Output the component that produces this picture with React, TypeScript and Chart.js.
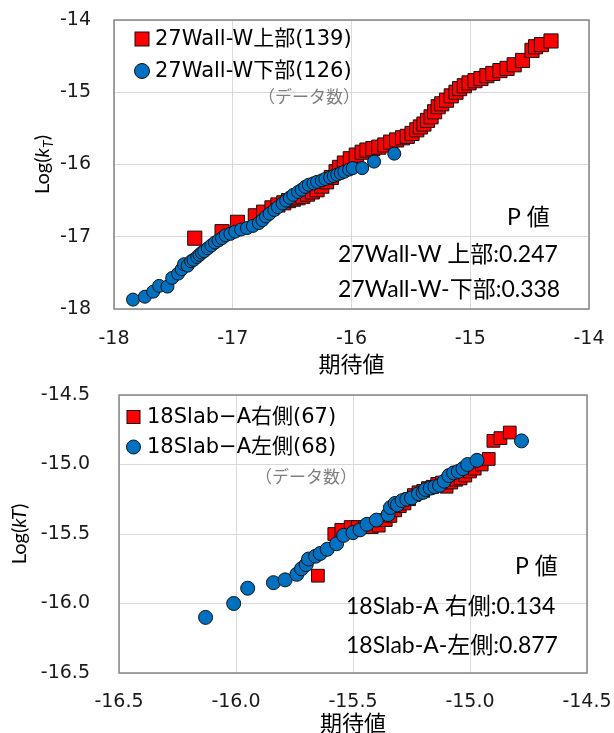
import React, { useEffect, useRef } from 'react';
import { Chart, registerables } from 'chart.js';

Chart.register(...registerables);

// ---------------- Top chart (27Wall-W) ----------------
const wallUpperX = [-17.32, -17.09, -16.96, -16.81, -16.74, -16.67, -16.62, -16.57, -16.53, -16.49, -16.45, -16.41, -16.37, -16.33, -16.29, -16.25, -16.21, -16.17, -16.13, -16.10, -16.06, -16.01, -15.96, -15.91, -15.87, -15.82, -15.77, -15.72, -15.67, -15.62, -15.57, -15.53, -15.49, -15.45, -15.42, -15.39, -15.36, -15.33, -15.30, -15.27, -15.24, -15.20, -15.16, -15.12, -15.09, -15.05, -15.01, -14.96, -14.91, -14.86, -14.81, -14.75, -14.69, -14.63, -14.56, -14.48, -14.45, -14.40, -14.32];
const wallUpperY = [-17.02, -16.93, -16.80, -16.71, -16.66, -16.60, -16.56, -16.53, -16.50, -16.48, -16.46, -16.44, -16.41, -16.38, -16.35, -16.30, -16.24, -16.18, -16.10, -16.04, -15.98, -15.92, -15.87, -15.83, -15.80, -15.78, -15.76, -15.73, -15.69, -15.66, -15.63, -15.61, -15.57, -15.52, -15.48, -15.44, -15.39, -15.34, -15.27, -15.20, -15.16, -15.11, -15.05, -15.00, -14.95, -14.91, -14.87, -14.84, -14.81, -14.77, -14.74, -14.70, -14.67, -14.62, -14.56, -14.42, -14.37, -14.34, -14.29];
const wallLowerX = [-17.84, -17.74, -17.67, -17.62, -17.55, -17.51, -17.46, -17.43, -17.41, -17.38, -17.35, -17.33, -17.30, -17.28, -17.26, -17.24, -17.21, -17.18, -17.15, -17.12, -17.09, -17.06, -17.02, -16.98, -16.93, -16.88, -16.83, -16.78, -16.75, -16.72, -16.69, -16.65, -16.62, -16.58, -16.55, -16.52, -16.49, -16.45, -16.42, -16.39, -16.36, -16.32, -16.29, -16.25, -16.22, -16.18, -16.15, -16.12, -16.09, -16.06, -16.02, -15.99, -15.91, -15.81, -15.64];
const wallLowerY = [-17.87, -17.83, -17.76, -17.68, -17.69, -17.57, -17.51, -17.45, -17.38, -17.40, -17.34, -17.32, -17.28, -17.25, -17.22, -17.20, -17.16, -17.12, -17.08, -17.05, -17.02, -16.98, -16.96, -16.93, -16.90, -16.88, -16.85, -16.81, -16.77, -16.72, -16.68, -16.63, -16.59, -16.54, -16.50, -16.46, -16.42, -16.38, -16.35, -16.31, -16.28, -16.26, -16.24, -16.22, -16.20, -16.18, -16.16, -16.14, -16.12, -16.10, -16.07, -16.05, -16.05, -15.96, -15.85];
const wallXTicks = [-18, -17, -16, -15, -14];
const wallXTickLabels = ['-18', '-17', '-16', '-15', '-14'];
const wallYTicks = [-18, -17, -16, -15, -14];
const wallYTickLabels = ['-18', '-17', '-16', '-15', '-14'];
const wallSeriesNames = ['27Wall-W上部(139)', '27Wall-W下部(126)'];
const wallPLabels = ['P 値', '27Wall-W 上部:0.247', '27Wall-W-下部:0.338'];

// ---------------- Bottom chart (18Slab-A) ----------------
const slabRightX = [-15.65, -15.58, -15.55, -15.51, -15.48, -15.45, -15.42, -15.39, -15.36, -15.34, -15.32, -15.30, -15.28, -15.26, -15.24, -15.22, -15.20, -15.18, -15.16, -15.14, -15.12, -15.10, -15.08, -15.06, -15.04, -15.02, -15.00, -14.98, -14.95, -14.92, -14.90, -14.87, -14.83];
const slabRightY = [-15.80, -15.50, -15.47, -15.45, -15.45, -15.45, -15.45, -15.44, -15.40, -15.37, -15.33, -15.30, -15.28, -15.25, -15.22, -15.20, -15.19, -15.17, -15.16, -15.14, -15.13, -15.16, -15.13, -15.11, -15.10, -15.08, -15.05, -15.03, -15.00, -14.96, -14.83, -14.81, -14.77];
const slabLeftX = [-16.13, -16.01, -15.95, -15.84, -15.79, -15.74, -15.72, -15.70, -15.69, -15.66, -15.64, -15.61, -15.57, -15.54, -15.50, -15.47, -15.44, -15.40, -15.35, -15.34, -15.32, -15.31, -15.29, -15.27, -15.25, -15.22, -15.20, -15.19, -15.17, -15.15, -15.13, -15.11, -15.09, -15.07, -15.05, -15.03, -15.01, -14.97, -14.78];
const slabLeftY = [-16.10, -16.00, -15.89, -15.85, -15.83, -15.79, -15.75, -15.72, -15.68, -15.66, -15.64, -15.61, -15.57, -15.51, -15.49, -15.47, -15.43, -15.40, -15.36, -15.31, -15.28, -15.29, -15.26, -15.25, -15.24, -15.21, -15.20, -15.18, -15.17, -15.16, -15.15, -15.12, -15.08, -15.06, -15.05, -15.03, -15.00, -14.97, -14.83];
const slabXTicks = [-16.5, -16.0, -15.5, -15.0, -14.5];
const slabXTickLabels = ['-16.5', '-16.0', '-15.5', '-15.0', '-14.5'];
const slabYTicks = [-16.5, -16.0, -15.5, -15.0, -14.5];
const slabYTickLabels = ['-16.5', '-16.0', '-15.5', '-15.0', '-14.5'];
const slabSeriesNames = ['18Slab\u2212A右側(67)', '18Slab\u2212A左側(68)'];
const slabPLabels = ['P 値', '18Slab-A 右側:0.134', '18Slab-A-左側:0.877'];

const countNote = '（データ数）';
const xTitle = '期待値';

const RED = '#ff0000';
const BLUE = '#0070c0';
const EDGE = '#111111';

const TICK_FONT = '"DejaVu Sans", sans-serif';
const LEGEND_FONT = '"DejaVu Sans", "Noto Sans CJK JP", sans-serif';
const PVAL_FONT = 'Lato, "Noto Sans CJK JP", sans-serif';
const CJK_FONT = '"Noto Sans CJK JP", sans-serif';

type Spec = {
  width: number;
  height: number;
  area: { left: number; top: number; right: number; bottom: number };
  upperX: number[]; upperY: number[];
  lowerX: number[]; lowerY: number[];
  xTicks: number[]; xTickLabels: string[];
  yTicks: number[]; yTickLabels: string[];
  tickPadX: number; tickPadY: number;
  circleR: number; rectR: number;
  names: string[];
  legend: { markerDx: number; textDx: number; rowDy: number[]; size: number; font: number };
  note: { dx: number; dy: number };
  pvals: string[];
  pval: { pDx: number; lineDx: number; dys: number[]; font: number };
  yTitle: { dx: number; subscript: boolean };
  xTitleDy: number;
};

function drawYTitle(ctx: CanvasRenderingContext2D, x: number, y: number, subscript: boolean) {
  ctx.save();
  ctx.translate(x, y);
  ctx.rotate(-Math.PI / 2);
  ctx.fillStyle = '#000';
  ctx.textBaseline = 'middle';
  ctx.textAlign = 'left';
  const normal = '20px Lato, sans-serif';
  const italic = 'italic 20px Lato, sans-serif';
  const subF = 'italic 14px Lato, sans-serif';
  const parts: { t: string; f: string; dy: number }[] = subscript
    ? [
        { t: 'Log(', f: normal, dy: 0 },
        { t: 'k', f: italic, dy: 0 },
        { t: 'T', f: subF, dy: 5 },
        { t: ')', f: normal, dy: 0 },
      ]
    : [
        { t: 'Log(', f: normal, dy: 0 },
        { t: 'kT', f: italic, dy: 0 },
        { t: ')', f: normal, dy: 0 },
      ];
  let total = 0;
  const widths = parts.map((p) => {
    ctx.font = p.f;
    const w = ctx.measureText(p.t).width;
    total += w;
    return w;
  });
  let cx = -total / 2;
  parts.forEach((p, i) => {
    ctx.font = p.f;
    ctx.fillText(p.t, cx, p.dy);
    cx += widths[i];
  });
  ctx.restore();
}

function makeDecor(spec: Spec) {
  return {
    id: 'decor',
    beforeDatasetsDraw(chart: any) {
      const { ctx, chartArea: a } = chart;
      ctx.save();
      ctx.strokeStyle = '#858585';
      ctx.lineWidth = 1.5;
      ctx.strokeRect(a.left, a.top, a.right - a.left, a.bottom - a.top);
      ctx.restore();
    },
    afterDraw(chart: any) {
      const { ctx, chartArea: a } = chart;
      ctx.save();
      // legend
      const lg = spec.legend;
      const colors = [RED, BLUE];
      spec.names.forEach((name, i) => {
        const cy = a.top + lg.rowDy[i];
        const mx = a.left + lg.markerDx;
        ctx.fillStyle = colors[i];
        ctx.strokeStyle = EDGE;
        ctx.lineWidth = 1;
        if (i === 0) {
          ctx.fillRect(mx - lg.size / 2, cy - lg.size / 2, lg.size, lg.size);
          ctx.strokeRect(mx - lg.size / 2, cy - lg.size / 2, lg.size, lg.size);
        } else {
          ctx.beginPath();
          ctx.arc(mx, cy, lg.size / 2 + 0.5, 0, Math.PI * 2);
          ctx.fill();
          ctx.stroke();
        }
        ctx.fillStyle = '#000';
        ctx.font = `${lg.font}px ${LEGEND_FONT}`;
        ctx.textAlign = 'left';
        ctx.textBaseline = 'middle';
        ctx.fillText(name, a.left + lg.textDx, cy + 1);
      });
      // note
      ctx.fillStyle = '#7f7f7f';
      ctx.font = `17px ${CJK_FONT}`;
      ctx.textAlign = 'center';
      ctx.textBaseline = 'middle';
      ctx.fillText(countNote, a.left + spec.note.dx, a.top + spec.note.dy);
      // p values
      ctx.fillStyle = '#000';
      ctx.font = `${spec.pval.font}px ${PVAL_FONT}`;
      ctx.textAlign = 'left';
      spec.pvals.forEach((t, i) => {
        const x = i === 0 ? a.left + spec.pval.pDx : a.left + spec.pval.lineDx;
        ctx.fillText(t, x, a.top + spec.pval.dys[i]);
      });
      // x title
      ctx.font = `22px ${CJK_FONT}`;
      ctx.textAlign = 'center';
      ctx.fillText(xTitle, (a.left + a.right) / 2, a.bottom + spec.xTitleDy);
      ctx.restore();
      drawYTitle(ctx, a.left + spec.yTitle.dx, (a.top + a.bottom) / 2, spec.yTitle.subscript);
    },
  };
}

function buildChart(canvas: HTMLCanvasElement, spec: Spec) {
  const pts = (xs: number[], ys: number[]) => xs.map((x, i) => ({ x, y: ys[i] }));
  return new Chart(canvas, {
    type: 'scatter',
    data: {
      datasets: [
        {
          label: spec.names[1],
          data: pts(spec.lowerX, spec.lowerY),
          pointStyle: 'circle',
          pointRadius: spec.circleR,
          backgroundColor: BLUE,
          borderColor: EDGE,
          borderWidth: 1,
        },
        {
          label: spec.names[0],
          data: pts(spec.upperX, spec.upperY),
          pointStyle: 'rect',
          pointRadius: spec.rectR,
          backgroundColor: RED,
          borderColor: EDGE,
          borderWidth: 1,
        },
      ],
    },
    options: {
      responsive: false,
      animation: false,
      devicePixelRatio: 1,
      events: [],
      layout: {
        padding: { left: 0, top: spec.area.top, right: spec.width - spec.area.right, bottom: 0 },
      },
      plugins: { legend: { display: false }, tooltip: { enabled: false } },
      scales: {
        x: {
          type: 'linear',
          min: spec.xTicks[0],
          max: spec.xTicks[spec.xTicks.length - 1],
          afterBuildTicks: (s: any) => {
            s.ticks = spec.xTicks.map((v) => ({ value: v }));
          },
          afterFit: (s: any) => {
            s.height = spec.height - spec.area.bottom;
            s.paddingLeft = 0;
            s.paddingRight = 0;
            s.paddingTop = 0;
            s.paddingBottom = 0;
          },
          ticks: {
            autoSkip: false,
            maxRotation: 0,
            padding: spec.tickPadX,
            color: '#1a1a1a',
            font: { family: TICK_FONT, size: 19 },
            callback: (_v: any, i: number) => spec.xTickLabels[i],
          },
          grid: { color: '#d9d9d9', lineWidth: 1, drawTicks: false },
          border: { display: false },
        },
        y: {
          type: 'linear',
          min: spec.yTicks[0],
          max: spec.yTicks[spec.yTicks.length - 1],
          afterBuildTicks: (s: any) => {
            s.ticks = spec.yTicks.map((v) => ({ value: v }));
          },
          afterFit: (s: any) => {
            s.width = spec.area.left;
            s.paddingLeft = 0;
            s.paddingRight = 0;
            s.paddingTop = 0;
            s.paddingBottom = 0;
          },
          ticks: {
            autoSkip: false,
            padding: spec.tickPadY,
            color: '#1a1a1a',
            font: { family: TICK_FONT, size: 19 },
            callback: (_v: any, i: number) => spec.yTickLabels[i],
          },
          grid: { color: '#d9d9d9', lineWidth: 1, drawTicks: false },
          border: { display: false },
        },
      },
    } as any,
    plugins: [makeDecor(spec)],
  });
}

const topSpec: Spec = {
  width: 614,
  height: 390,
  area: { left: 114, top: 20, right: 589, bottom: 309 },
  upperX: wallUpperX, upperY: wallUpperY,
  lowerX: wallLowerX, lowerY: wallLowerY,
  xTicks: wallXTicks, xTickLabels: wallXTickLabels,
  yTicks: wallYTicks, yTickLabels: wallYTickLabels,
  tickPadX: 19, tickPadY: 23,
  circleR: 6.5, rectR: 10,
  names: wallSeriesNames,
  legend: { markerDx: 28, textDx: 41, rowDy: [19, 51], size: 14, font: 21 },
  note: { dx: 195, dy: 77 },
  pvals: wallPLabels,
  pval: { pDx: 393, lineDx: 224, dys: [198, 235, 270], font: 23 },
  yTitle: { dx: -71, subscript: true },
  xTitleDy: 55,
};

const bottomSpec: Spec = {
  width: 614,
  height: 367,
  area: { left: 119, top: 29, right: 587, bottom: 307 },
  upperX: slabRightX, upperY: slabRightY,
  lowerX: slabLeftX, lowerY: slabLeftY,
  xTicks: slabXTicks, xTickLabels: slabXTickLabels,
  yTicks: slabYTicks, yTickLabels: slabYTickLabels,
  tickPadX: 18, tickPadY: 29,
  circleR: 7, rectR: 9,
  names: slabSeriesNames,
  legend: { markerDx: 14.5, textDx: 28, rowDy: [22, 52], size: 13, font: 21 },
  note: { dx: 187, dy: 82 },
  pvals: slabPLabels,
  pval: { pDx: 396, lineDx: 227, dys: [172, 212, 251], font: 23 },
  yTitle: { dx: -99.5, subscript: false },
  xTitleDy: 50,
};

export default function App() {
  const topRef = useRef<HTMLCanvasElement>(null);
  const botRef = useRef<HTMLCanvasElement>(null);

  useEffect(() => {
    const c1 = buildChart(topRef.current!, topSpec);
    const c2 = buildChart(botRef.current!, bottomSpec);
    let alive = true;
    Promise.all([
      document.fonts.load('20px Lato'),
      document.fonts.load('italic 20px Lato'),
      document.fonts.load('20px "DejaVu Sans"'),
      document.fonts.load('20px "Noto Sans CJK JP"'),
    ]).then(() => {
      if (alive) {
        c1.draw();
        c2.draw();
      }
    }).catch(() => {});
    return () => {
      alive = false;
      c1.destroy();
      c2.destroy();
    };
  }, []);

  return (
    <div style={{ position: 'absolute', left: 0, top: 0, width: 614, height: 733, background: '#fff' }}>
      <canvas ref={topRef} width={614} height={390} style={{ position: 'absolute', left: 0, top: 0 }} />
      <canvas ref={botRef} width={614} height={367} style={{ position: 'absolute', left: 0, top: 366 }} />
    </div>
  );
}
